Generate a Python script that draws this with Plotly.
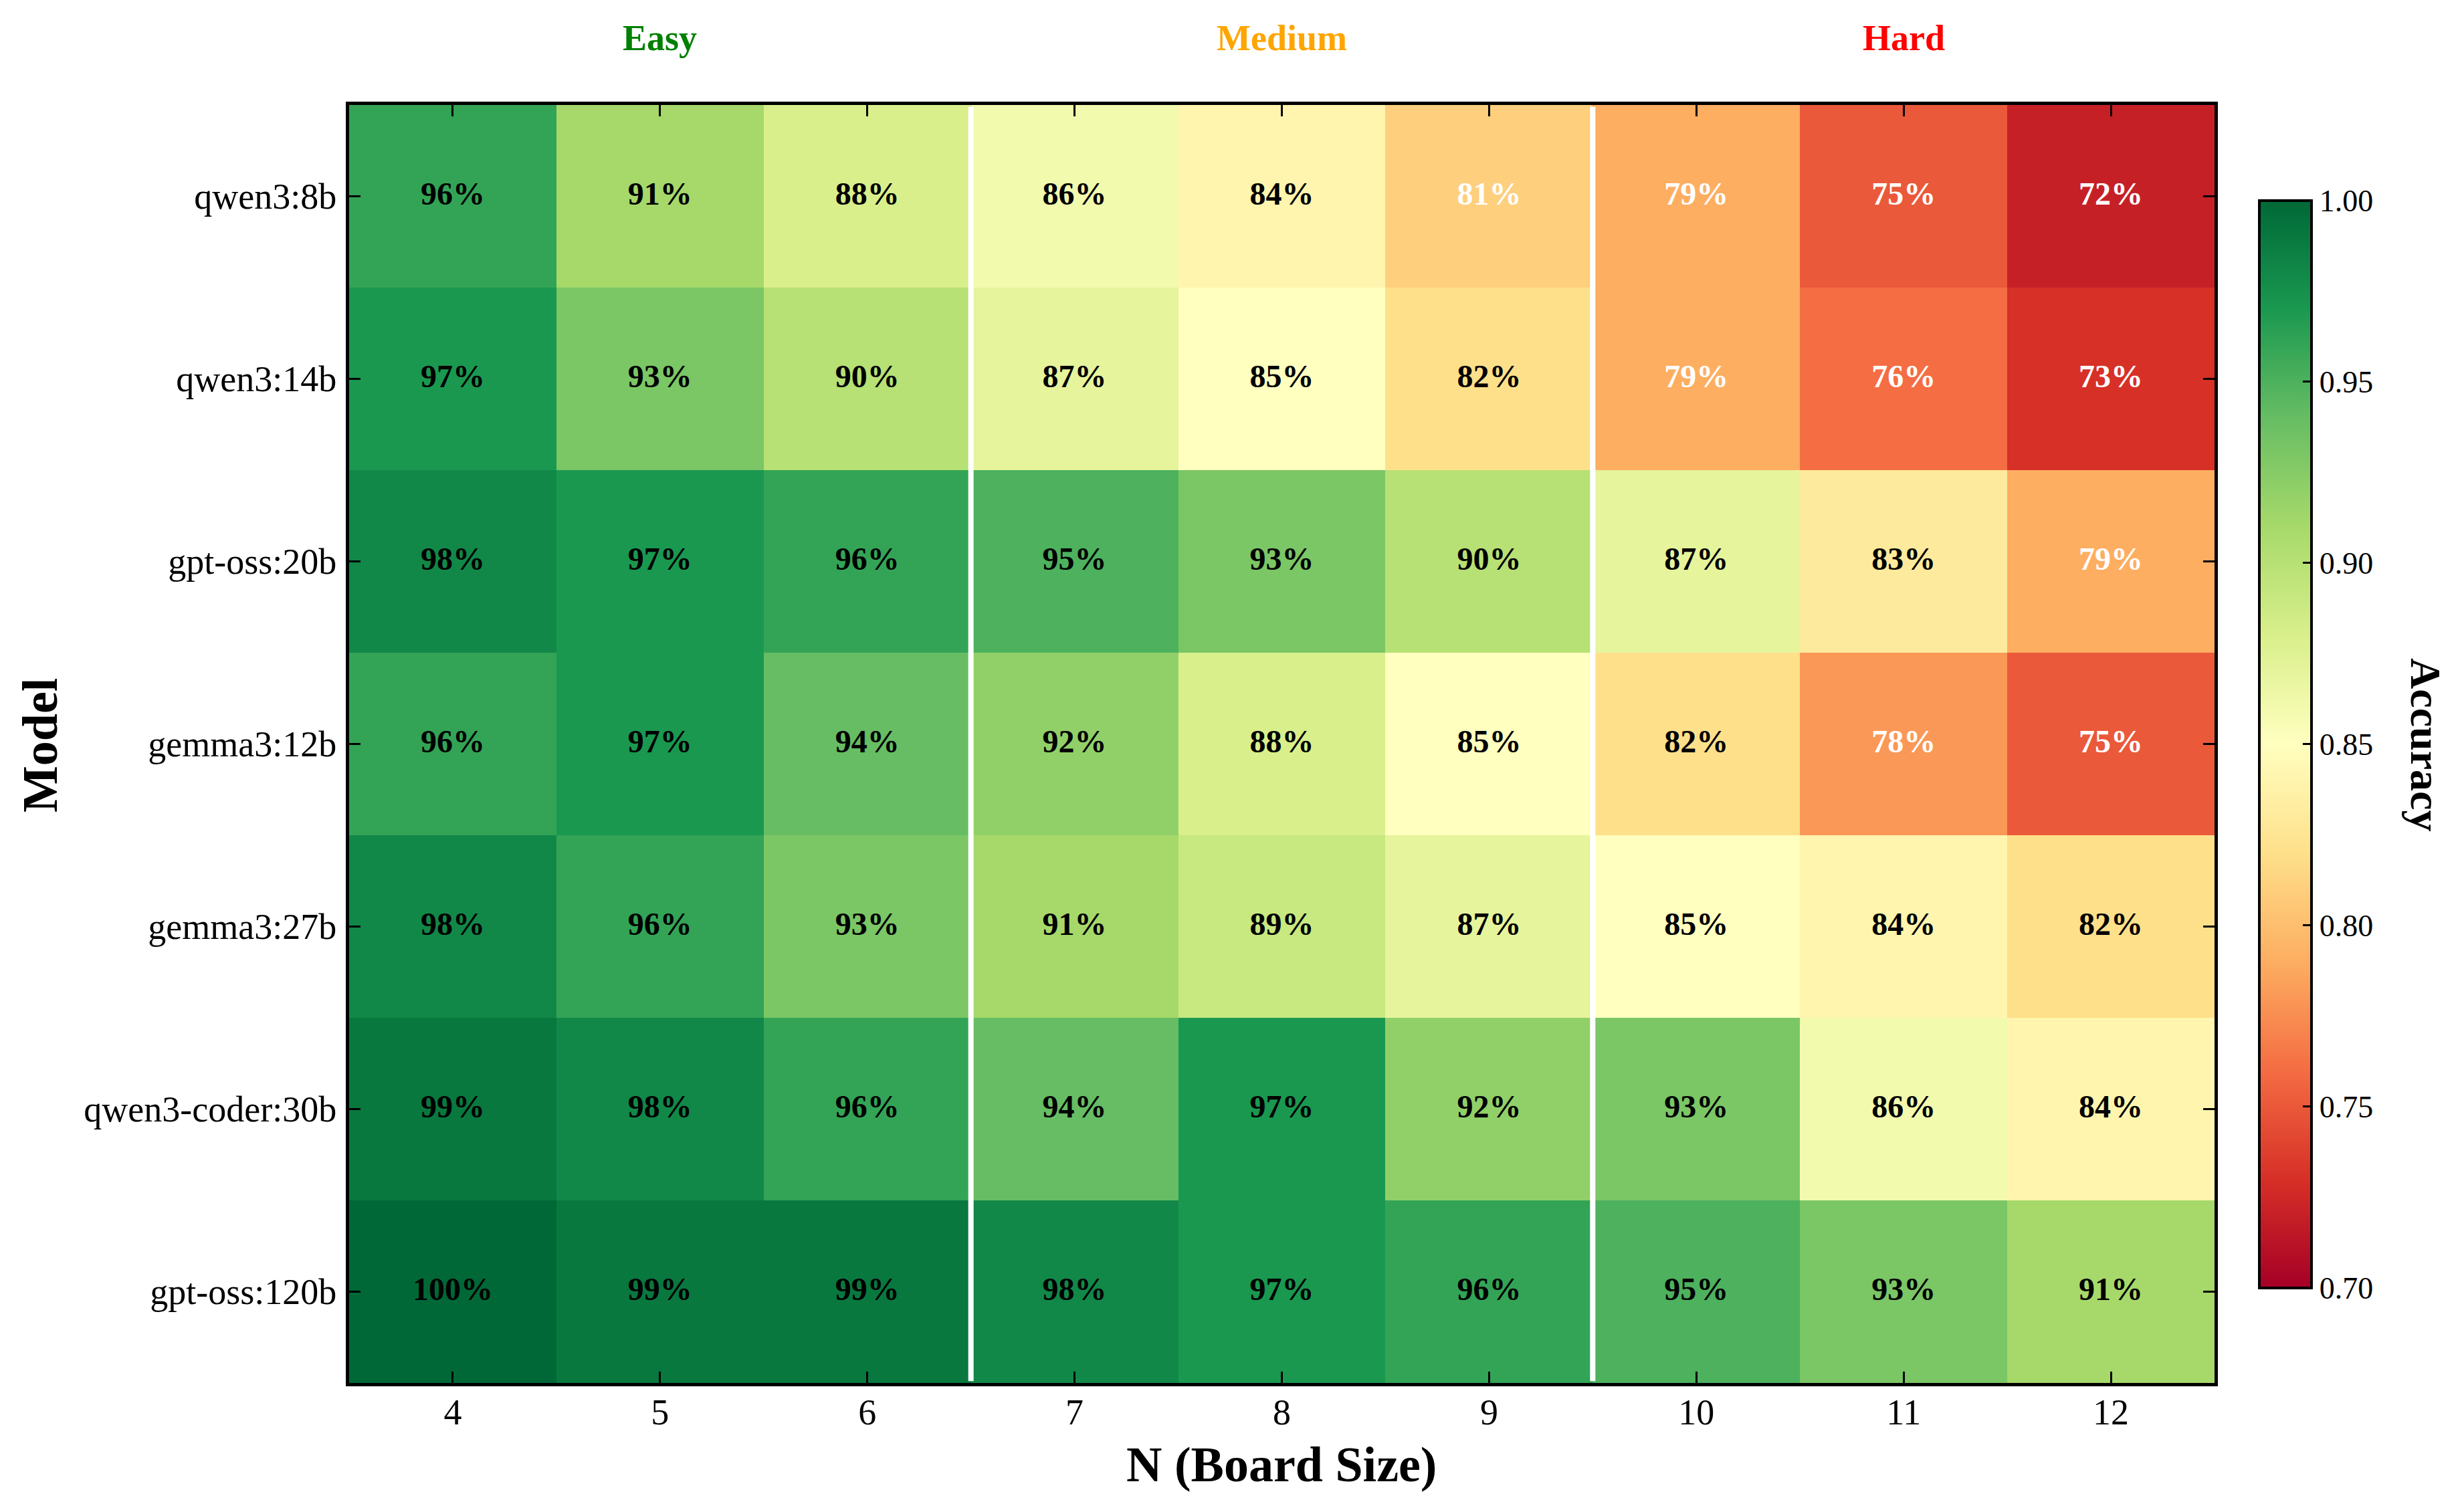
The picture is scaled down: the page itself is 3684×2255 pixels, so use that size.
import plotly.graph_objects as go

# ---- data ----
models = ["qwen3:8b", "qwen3:14b", "gpt-oss:20b", "gemma3:12b",
          "gemma3:27b", "qwen3-coder:30b", "gpt-oss:120b"]
board_sizes = [4, 5, 6, 7, 8, 9, 10, 11, 12]
acc_qwen3_8b = [0.96, 0.91, 0.88, 0.86, 0.84, 0.81, 0.79, 0.75, 0.72]
acc_qwen3_14b = [0.97, 0.93, 0.90, 0.87, 0.85, 0.82, 0.79, 0.76, 0.73]
acc_gptoss_20b = [0.98, 0.97, 0.96, 0.95, 0.93, 0.90, 0.87, 0.83, 0.79]
acc_gemma3_12b = [0.96, 0.97, 0.94, 0.92, 0.88, 0.85, 0.82, 0.78, 0.75]
acc_gemma3_27b = [0.98, 0.96, 0.93, 0.91, 0.89, 0.87, 0.85, 0.84, 0.82]
acc_qwen3coder_30b = [0.99, 0.98, 0.96, 0.94, 0.97, 0.92, 0.93, 0.86, 0.84]
acc_gptoss_120b = [1.00, 0.99, 0.99, 0.98, 0.97, 0.96, 0.95, 0.93, 0.91]
z = [acc_qwen3_8b, acc_qwen3_14b, acc_gptoss_20b, acc_gemma3_12b,
     acc_gemma3_27b, acc_qwen3coder_30b, acc_gptoss_120b]

groups = ["Easy", "Medium", "Hard"]
group_centers = [5, 8, 11]
group_colors = ["#008000", "#FFA500", "#FF0000"]
group_boundaries = [6.5, 9.5]
cbar_ticks = [0.70, 0.75, 0.80, 0.85, 0.90, 0.95, 1.00]

FONT = "Liberation Serif"
W, H = 3684, 2255
L, R, T, B = 522, 373, 157, 187
pw, ph = W - L - R, H - T - B

def px_x(p):
    return (p - L) / pw

def px_y(p):
    return (H - B - p) / ph

fig = go.Figure()
fig.add_trace(go.Heatmap(
    z=z, x=board_sizes, y=models,
    colorscale="RdYlGn", zmin=0.7, zmax=1.0,
    colorbar=dict(
        x=px_x(3378), xanchor="left", xpad=0,
        y=0.5, yanchor="middle", ypad=0,
        lenmode="pixels", len=1626, thickness=78,
        outlinewidth=4, outlinecolor="black",
        tickvals=cbar_ticks, tickformat=".2f",
        ticks="inside", ticklen=15, tickwidth=3, tickcolor="black",
        tickfont=dict(family=FONT, size=46, color="black"),
    ),
    hoverinfo="skip",
))

tx, ty, tt, tc = [], [], [], []
for m, row in zip(models, z):
    for n, v in zip(board_sizes, row):
        tx.append(n)
        ty.append(m)
        tt.append(f"{v*100:.0f}%")
        tc.append("white" if v < 0.815 else "black")
fig.add_trace(go.Scatter(
    x=tx, y=ty, text=tt, mode="text",
    textfont=dict(family=FONT, size=48, color=tc, weight="bold"),
    showlegend=False, hoverinfo="skip",
))

shapes = []
for xb in group_boundaries:
    shapes.append(dict(type="line", xref="x", yref="paper", x0=xb, x1=xb,
                       y0=0.0015, y1=0.9985, line=dict(color="white", width=8),
                       layer="above"))

annotations = []
for g, c, col in zip(groups, group_centers, group_colors):
    annotations.append(dict(text=g, x=c, xref="x", y=px_y(57), yref="paper",
                            showarrow=False, xanchor="center", yanchor="middle",
                            font=dict(family=FONT, size=54, color=col, weight="bold")))
annotations.append(dict(text="N (Board Size)", x=0.5, xref="paper", y=px_y(2190), yref="paper",
                        showarrow=False, xanchor="center", yanchor="middle",
                        font=dict(family=FONT, size=74, color="black", weight="bold")))
annotations.append(dict(text="Model", x=px_x(60), xref="paper", y=px_y(1115), yref="paper",
                        showarrow=False, xanchor="center", yanchor="middle", textangle=-90,
                        font=dict(family=FONT, size=74, color="black", weight="bold")))
annotations.append(dict(text="Accuracy", x=px_x(3627), xref="paper", y=px_y(1114), yref="paper",
                        showarrow=False, xanchor="center", yanchor="middle", textangle=90,
                        font=dict(family=FONT, size=64, color="black", weight="bold")))

axis_common = dict(showline=True, linewidth=5, linecolor="black", mirror="ticks",
                   ticks="inside", ticklen=17, tickwidth=3, tickcolor="black",
                   showgrid=False, zeroline=False, automargin=False,
                   tickfont=dict(family=FONT, size=54, color="black"))

fig.update_layout(
    width=W, height=H,
    margin=dict(l=L, r=R, t=T, b=B, pad=0),
    paper_bgcolor="white", plot_bgcolor="white",
    font=dict(family=FONT, color="black"),
    shapes=shapes, annotations=annotations,
    showlegend=False,
    xaxis=dict(tickvals=board_sizes, ticktext=[str(b) for b in board_sizes],
               range=[3.5, 12.5], ticklabelstandoff=-8, **axis_common),
    yaxis=dict(type="category", categoryorder="array", categoryarray=models,
               autorange="reversed", ticklabelstandoff=3, **axis_common),
)

fig.write_html("out.html", config={"displayModeBar": False},
               post_script="document.body.style.margin='0';")
